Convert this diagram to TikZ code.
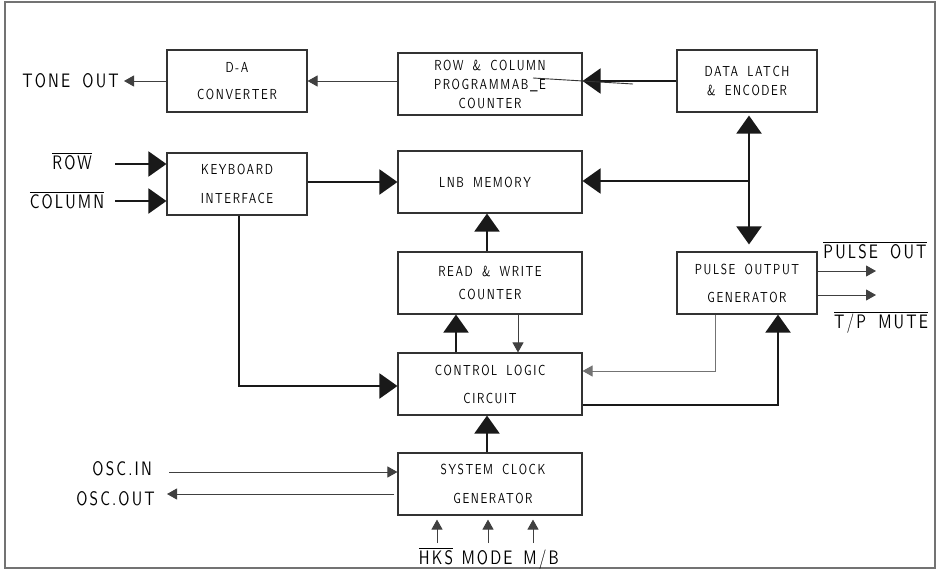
\documentclass[tikz,border=0pt]{standalone}
\usepackage{fontspec}
\newfontfamily\cadfont{lmsans10-regular.otf}[FakeStretch=0.78,LetterSpace=11,WordSpace=1.7]
\usetikzlibrary{arrows.meta}
\newcommand\ovl[1]{\ensuremath{\overline{\mbox{\vphantom{Ag}#1}}}}
\begin{document}
\begin{tikzpicture}[x=1pt,y=-1pt,
  blk/.style={draw=black!80,line width=1.1pt,minimum width=140pt,minimum height=62pt,
    inner sep=0pt,align=center,font=\cadfont\fontsize{14.5}{27}\selectfont},
  wide/.style={minimum width=184pt},
  ls/.style={font=\cadfont\fontsize{14.5}{#1}\selectfont},
  lbl/.style={inner sep=0pt,font=\cadfont\fontsize{19.5}{22}\selectfont},
  thk/.style={line width=2pt,draw=black!90,-{Triangle[length=18pt,width=25pt]}},
  thn/.style={line width=1pt,draw=black!75,-{Triangle[length=10pt,width=11pt]}},
  thnb/.style={line width=2pt,draw=black!90,{Triangle[length=18pt,width=25pt]}-{Triangle[length=18pt,width=25pt]}}
]
\useasboundingbox (0,0) rectangle (942,570);
\draw[draw=black!55,line width=1.8pt] (5,2) rectangle (935,568);

% blocks
\node[blk] (da) at (237,81) {D-A\\CONVERTER};
\node[blk,wide,ls=19] (rc) at (490,84) {ROW \& COLUMN\\PROGRAMMAB\_E\\COUNTER};
\node[blk,ls=19] (dl) at (747,81) {DATA LATCH\\\& ENCODER};
\node[blk,ls=29] (kb) at (237,184) {KEYBOARD\\INTERFACE};
\node[blk,wide] (lnb) at (490,182) {LNB MEMORY\hspace*{10pt}};
\node[blk,wide,ls=23] (rw) at (490,283) {READ \& WRITE\\COUNTER};
\node[blk,ls=28] (po) at (747,283) {PULSE OUTPUT\\GENERATOR};
\node[blk,wide,ls=28] (cl) at (490,384) {CONTROL LOGIC\\CIRCUIT};
\node[blk,wide,ls=29] (sc) at (490,484) {\hspace*{6pt}SYSTEM CLOCK\\\hspace*{6pt}GENERATOR};

% labels
\node[lbl,anchor=east] (tone) at (119,81) {TONE OUT};
\node[lbl,anchor=base] (row) at (72,169) {\ovl{ROW}};
\node[lbl,anchor=base] (col) at (67,208) {\ovl{COLUMN}};
\node[lbl,anchor=base] (pout) at (875,258) {\ovl{PULSE OUT}};
\node[lbl,anchor=base] (tpm) at (881,328) {\ovl{T/P MUTE}};
\node[lbl,anchor=base east] (oscin) at (152,475) {OSC.IN};
\node[lbl,anchor=base east] (oscout) at (155,505) {OSC.OUT};
\node[lbl,anchor=base] (hks) at (436,564) {\ovl{HKS}};
\node[lbl,anchor=base] (mode) at (487,564) {MODE};
\node[lbl,anchor=base] (mb) at (541,564) {M/B};

% connectors top row
\draw[thn] (da.west) -- ([xshift=5pt]tone.east);
\draw[thn] (rc.west |- da.east) -- (da.east);
\draw[thk] (dl.west) -- (dl.west -| rc.east);
\coordinate (sl1) at (533,78);
\coordinate (sl2) at (633,84);
\draw[line width=0.9pt,draw=black!80] (sl1) -- (sl2);

% bus
\coordinate (bus) at (749,181);
\draw[thk] (bus) -- (bus -| lnb.east);
\draw[thnb] ([yshift=-3pt]dl.south -| bus) -- ([yshift=7pt]po.north -| bus);

% keyboard inputs
\coordinate (rowin) at (115,164);
\coordinate (colin) at (115,201);
\draw[thk] (rowin) -- (rowin -| kb.west);
\draw[thk] (colin) -- (colin -| kb.west);
\draw[thk] (kb.east |- lnb.west) -- (lnb.west);
\draw[thk] ([xshift=2pt]kb.south) |- ([yshift=-2pt]cl.west);

% middle column
\draw[thk] ([xshift=-3pt]rw.north) -- ([xshift=-3pt]lnb.south);
\draw[thk] ([xshift=-34pt]cl.north) -- ([xshift=-34pt]rw.south);
\draw[thn] ([xshift=28pt]rw.south) -- ([xshift=28pt]cl.north);
\draw[thk] ([xshift=-3pt]sc.north) -- ([xshift=-3pt]cl.south);

% pulse output
\draw[thn,draw=black!55] ([xshift=-32pt]po.south) |- ([yshift=13pt]cl.east);
\draw[thk] ([yshift=-21pt]cl.east) -| ([xshift=31pt]po.south);
\coordinate (po1) at (876,271);
\coordinate (po2) at (876,295);
\draw[thn] (po1 -| po.east) -- (po1);
\draw[thn] (po2 -| po.east) -- (po2);

% oscillator
\coordinate (oi) at (169,472);
\coordinate (oo) at (167,494);
\draw[thn] (oi) -- (oi -| sc.west);
\draw[thn] ([xshift=-3pt]oo -| sc.west) -- (oo);

% clock inputs
\coordinate (h1) at (437,543);
\coordinate (h2) at (488,543);
\coordinate (h3) at (533,543);
\draw[thn,shorten >=4pt] (h1) -- (h1 |- sc.south);
\draw[thn,shorten >=4pt] (h2) -- (h2 |- sc.south);
\draw[thn,shorten >=4pt] (h3) -- (h3 |- sc.south);
\end{tikzpicture}
\end{document}
